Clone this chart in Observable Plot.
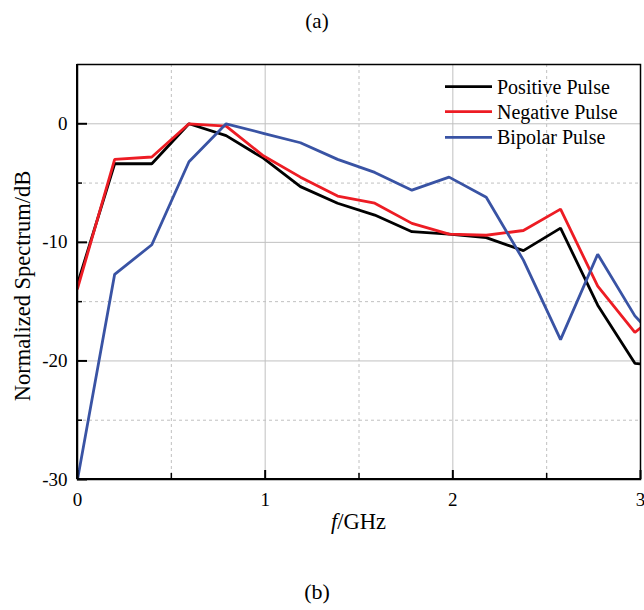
<!DOCTYPE html>
<html><head><meta charset="utf-8">
<script src="https://cdn.jsdelivr.net/npm/d3@7"></script>
<script src="https://cdn.jsdelivr.net/npm/@observablehq/plot@0.6"></script>
<style>body{margin:0;background:#fff} svg{font-family:"Liberation Serif","Times New Roman",serif}</style>
</head><body><div id="chart"></div>
<script>
const freq = [0, 0.198, 0.396, 0.594, 0.792, 0.99, 1.188, 1.386, 1.584, 1.782, 1.98, 2.178, 2.376, 2.574, 2.772, 2.97, 3.168];
const positive = [-13.5, -3.37, -3.37, 0, -1.0, -2.9, -5.3, -6.7, -7.7, -9.1, -9.3, -9.6, -10.7, -8.8, -15.3, -20.2, -20.5];
const negative = [-13.9, -3.0, -2.8, 0, -0.2, -2.7, -4.5, -6.1, -6.7, -8.4, -9.3, -9.4, -9.0, -7.2, -13.7, -17.6, -15.0];
const bipolar  = [-30, -12.7, -10.2, -3.2, 0, -0.8, -1.6, -3.0, -4.1, -5.6, -4.5, -6.2, -11.5, -18.2, -11.0, -16.2, -19.6];
const seriesNames = ["Positive Pulse", "Negative Pulse", "Bipolar Pulse"];
const seriesColors = ["#000000", "#ed1c24", "#3953a4"];
const xMajorTicks = [0, 1, 2, 3];
const xMinorTicks = [0.5, 1.5, 2.5];
const yMajorTicks = [-30, -20, -10, 0];
const yMinorTicks = [-25, -15, -5];
const yLabel = "Normalized Spectrum/dB";
const topLabel = "(a)";
const bottomLabel = "(b)";

const rows = [];
[positive, negative, bipolar].forEach((vals, s) =>
  vals.forEach((v, i) => rows.push({f: freq[i], db: v, series: seriesNames[s]})));

const font = '"Liberation Serif","Times New Roman",serif';
const fmt = d => String(d);
const chart = Plot.plot({
  width: 644, height: 610,
  marginLeft: 77, marginRight: 4, marginTop: 64, marginBottom: 131,
  style: {fontFamily: font, fontSize: "19px", background: "#fff", color: "#000"},
  x: {domain: [0, 3]},
  y: {domain: [-30, 5]},
  color: {domain: seriesNames, range: seriesColors},
  marks: [
    Plot.gridX(xMinorTicks, {stroke: "#c0c0c0", strokeOpacity: 1, strokeDasharray: "3,3"}),
    Plot.gridX([1, 2], {stroke: "#c0c0c0", strokeOpacity: 1}),
    Plot.gridY(yMinorTicks, {stroke: "#c0c0c0", strokeOpacity: 1, strokeDasharray: "3,3"}),
    Plot.gridY([-20, -10, 0], {stroke: "#c0c0c0", strokeOpacity: 1}),
    Plot.line(rows, {x: "f", y: "db", stroke: "series", z: "series", strokeWidth: 2.8, strokeLinejoin: "miter", clip: true}),
    Plot.frame({stroke: "#000", strokeWidth: 1.5}),
    Plot.axisX(xMajorTicks, {tickSize: -9, text: null, strokeWidth: 2, label: null}),
    Plot.axisX(xMinorTicks, {tickSize: -6, text: null, strokeWidth: 1.5, label: null}),
    Plot.axisY(yMajorTicks, {tickSize: -10, text: null, strokeWidth: 2, label: null}),
    Plot.axisY(yMinorTicks, {tickSize: -5, text: null, strokeWidth: 1.5, label: null}),
    Plot.axisX(xMajorTicks, {tickSize: 0, tickPadding: 13, fontSize: 19, tickFormat: fmt, label: null}),
    Plot.axisY(yMajorTicks, {tickSize: 0, tickPadding: 10, fontSize: 19, tickFormat: fmt, label: null})
  ]
});
document.getElementById("chart").appendChild(chart);

const svg = d3.select(chart);
svg.append("line").attr("x1", 77).attr("x2", 77).attr("y1", 64).attr("y2", 479).attr("stroke", "#000").attr("stroke-width", 2);
svg.append("line").attr("x1", 77).attr("x2", 640).attr("y1", 479).attr("y2", 479).attr("stroke", "#000").attr("stroke-width", 2);

svg.append("text").attr("transform", "translate(22,286) rotate(-90)")
  .attr("text-anchor", "middle").attr("dy", "0.35em")
  .style("font-family", font).style("font-size", "22.5px").attr("fill", "#000").text(yLabel);

const xl = svg.append("text").attr("x", 358.5).attr("y", 529).attr("text-anchor", "middle")
  .style("font-family", font).style("font-size", "22.5px").attr("fill", "#000");
xl.append("tspan").style("font-style", "italic").text("f");
xl.append("tspan").text("/GHz");

svg.append("text").attr("x", 317).attr("y", 28).attr("text-anchor", "middle")
  .style("font-family", font).style("font-size", "21px").attr("fill", "#000").text(topLabel);
svg.append("text").attr("x", 317).attr("y", 599).attr("text-anchor", "middle")
  .style("font-family", font).style("font-size", "22px").attr("fill", "#000").text(bottomLabel);

const legendY = [86.7, 111.7, 137.3];
seriesNames.forEach((name, i) => {
  svg.append("line").attr("x1", 445).attr("x2", 492).attr("y1", legendY[i]).attr("y2", legendY[i])
    .attr("stroke", seriesColors[i]).attr("stroke-width", 2.8);
  svg.append("text").attr("x", 497).attr("y", legendY[i]).attr("dy", "0.35em").attr("text-anchor", "start")
    .style("font-family", font).style("font-size", "20px").attr("fill", "#000").text(name);
});
</script></body></html>
